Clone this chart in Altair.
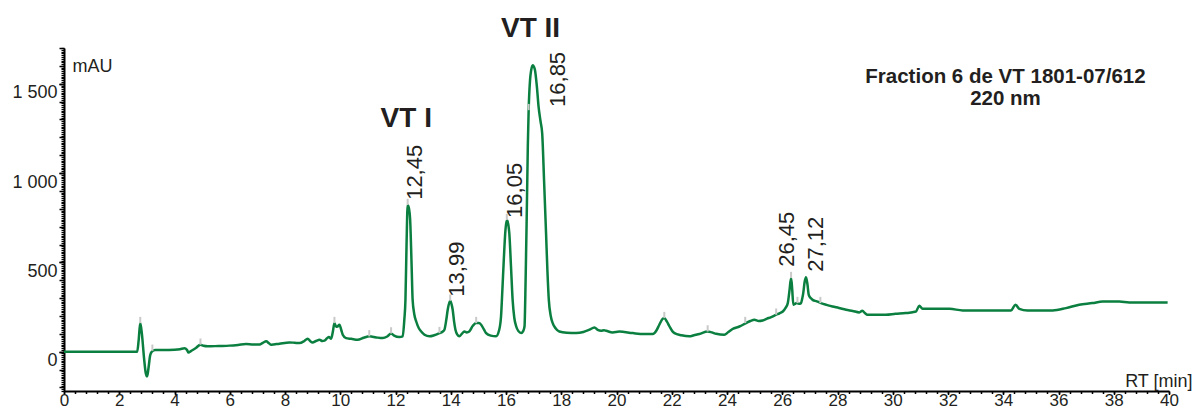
import altair as alt
import pandas as pd

# ---- chromatogram trace (retention time in min, absorbance in mAU) ----
rt_min = [0.0, 2.65, 2.70, 2.76, 2.82, 2.90, 2.96, 3.01, 3.06, 3.12, 3.18, 3.3, 3.6, 4.0, 4.2, 4.36,
          4.45, 4.51, 4.58, 4.76, 4.94, 5.05, 5.2, 5.6, 5.99, 6.3, 6.59, 6.85, 7.08, 7.2, 7.32, 7.42,
          7.5, 7.8, 8.16, 8.35, 8.52, 8.7, 8.82, 8.92, 9.0, 9.12, 9.25, 9.35, 9.43, 9.52, 9.59, 9.67,
          9.73, 9.79, 9.85, 9.90, 9.97, 10.04, 10.09, 10.21, 10.4, 10.63, 10.85, 11.06, 11.3, 11.54,
          11.7, 11.84, 11.95, 12.14, 12.26, 12.32, 12.36, 12.40, 12.44, 12.49, 12.53, 12.58, 12.62,
          12.68, 12.75, 12.85, 12.93, 13.05, 13.23, 13.4, 13.59, 13.7, 13.77, 13.84, 13.89, 13.98,
          14.03, 14.07, 14.12, 14.17, 14.24, 14.31, 14.4, 14.49, 14.58, 14.67, 14.8, 14.92, 15.02,
          15.10, 15.2, 15.28, 15.45, 15.64, 15.75, 15.82, 15.87, 15.92, 15.98, 16.03, 16.08, 16.12,
          16.18, 16.24, 16.30, 16.37, 16.45, 16.55, 16.62, 16.67, 16.71, 16.75, 16.79, 16.82, 16.87,
          16.91, 16.97, 17.01, 17.05, 17.12, 17.18, 17.25, 17.31, 17.38, 17.45, 17.50, 17.55, 17.62,
          17.69, 17.8, 17.93, 18.2, 18.54, 18.8, 19.02, 19.2, 19.32, 19.44, 19.55, 19.63, 19.86, 20.1,
          20.59, 21.0, 21.31, 21.45, 21.55, 21.65, 21.73, 21.82, 21.92, 22.02, 22.1, 22.35, 22.64,
          22.8, 23.0, 23.3, 23.45, 23.61, 23.9, 24.05, 24.2, 24.45, 24.69, 24.85, 24.99, 25.15, 25.29,
          25.45, 25.6, 25.78, 25.9, 26.02, 26.12, 26.2, 26.26, 26.32, 26.36, 26.40, 26.46, 26.52,
          26.60, 26.68, 26.72, 26.76, 26.81, 26.86, 26.91, 26.96, 27.03, 27.1, 27.25, 27.4, 27.6,
          27.82, 28.05, 28.31, 28.55, 28.79, 28.9, 29.0, 29.08, 29.4, 29.75, 30.1, 30.47, 30.84,
          30.96, 31.08, 31.45, 32.06, 32.53, 33.14, 33.86, 34.28, 34.44, 34.58, 34.88, 35.79, 36.27,
          36.75, 37.23, 37.6, 38.2, 38.56, 39.17, 39.95]
mau = [0, 0, 60, 160, 100, -40, -120, -138, -90, -20, 0, 10, 9, 11, 14, 19,
       10, -5, 2, 19, 39, 33, 30, 32, 34, 38, 43, 40, 40, 50, 58, 47,
       39, 45, 52, 50, 48, 60, 73, 58, 52, 60, 67, 60, 62, 75, 82, 73,
       110, 160, 140, 141, 151, 120, 95, 76, 72, 67, 78, 86, 80, 76,
       85, 102, 90, 82, 86, 180, 290, 600, 821, 800, 740, 500, 290,
       210, 169, 130, 113, 95, 86, 92, 104, 112, 123, 180, 235, 285,
       265, 235, 170, 123, 95, 86, 100, 113, 108, 113, 145, 160, 160,
       151, 125, 104, 90, 86, 120, 197, 350, 514, 680, 737, 715, 663,
       480, 290, 190, 141, 115, 104, 115, 141, 400, 756, 1150, 1352, 1520,
       1575, 1603, 1595, 1575, 1480, 1370, 1290, 1222, 950, 663, 450, 290, 200,
       160, 130, 113, 106, 104, 110, 123, 136, 122, 117, 120, 117, 108, 113,
       104, 99, 99, 120, 151, 180, 188, 170, 141, 115, 104, 92, 86,
       92, 99, 113, 108, 100, 95, 110, 127, 141, 160, 172, 179, 172, 175,
       185, 194, 207, 215, 225, 245, 272, 340, 412, 350, 263, 268, 272,
       268, 272, 295, 328, 390, 417, 380, 318, 300, 290, 282, 272, 262,
       253, 245, 235, 228, 220, 229, 215, 207, 207, 207, 212, 216, 225,
       257, 240, 240, 240, 231, 231, 231, 231, 263, 240, 231, 231, 244,
       263, 272, 281, 281, 276, 276, 276]

# ---- peak markers (light grey integration marks) ----
marker_rt = [2.76, 3.2, 4.94, 9.79, 11.05, 11.84, 12.44, 13.59, 13.98, 14.92, 16.03, 16.82,
             21.73, 23.3, 24.66, 25.78, 26.32, 26.55, 27.38]
marker_mau = [160, 5, 39, 160, 86, 102, 821, 104, 285, 160, 737, 1352,
              188, 113, 160, 207, 412, 272, 272]

# ---- peak retention-time labels ----
peak_text = ["12,45", "13,99", "16,05", "16,85", "26,45", "27,12"]
peak_text_rt = [12.72, 14.24, 16.32, 17.9, 26.18, 27.22]
peak_text_mau = [850, 308, 749, 1370, 475, 447]

# ---- fraction names ----
frac_text = ["VT I", "VT II"]
frac_rt = [12.39, 16.89]
frac_mau = [1257, 1763]

# ---- heading ----
head_text = ["Fraction 6 de VT 1801-07/612", "220 nm"]
head_rt = [34.08, 34.08]
head_mau = [1506, 1381]

FONT = "Liberation Sans"
INK = "#231f20"
GREEN = "#0a7f3f"

trace = pd.DataFrame({"rt": rt_min, "mau": mau})
markers = pd.DataFrame({"rt": marker_rt, "mau": marker_mau})
markers["top"] = markers["mau"] + 35
peaks = pd.DataFrame({"rt": peak_text_rt, "mau": peak_text_mau, "label": peak_text})
fracs = pd.DataFrame({"rt": frac_rt, "mau": frac_mau, "label": frac_text})
heads = pd.DataFrame({"rt": head_rt, "mau": head_mau, "label": head_text})

xscale = alt.Scale(domain=[0, 40], nice=False, zero=False)
yscale = alt.Scale(domain=[-220, 1700], nice=False, zero=False)

x_main_axis = alt.Axis(
    orient="bottom", values=list(range(0, 41, 2)), format="d", grid=False,
    labelFont=FONT, labelFontSize=17, labelColor=INK, labelBaseline="alphabetic",
    labelPadding=10.8, labelFlush=False, labelOverlap=False,
    tickSize=3.5, tickWidth=1.5, tickColor="black",
    domainColor="black", domainWidth=2,
    title="RT [min]", titleFont=FONT, titleFontSize=18, titleFontWeight="normal",
    titleColor=INK, titleAlign="right", titleBaseline="alphabetic",
    titleAngle=0, titleX=1128, titleY=-5)
x_minor_axis = alt.Axis(
    orient="bottom", values=[round(i * 0.4, 1) for i in range(101)], labels=False,
    grid=False, domain=False, tickSize=2.5, tickWidth=1.5, tickColor="black", title=None)

y_main_axis = alt.Axis(
    orient="left", values=[0, 500, 1000, 1500], grid=False,
    labelExpr="replace(format(datum.value, ','), ',', ' ')",
    labelFont=FONT, labelFontSize=18, labelColor=INK, labelBaseline="top",
    labelPadding=2, labelFlush=False, labelOverlap=False,
    tickSize=5, tickWidth=1.5, tickColor="black",
    domainColor="black", domainWidth=2,
    title="mAU", titleFont=FONT, titleFontSize=18, titleFontWeight="normal",
    titleColor=INK, titleAngle=0, titleAlign="left", titleBaseline="alphabetic",
    titleX=8, titleY=23.5)
y_hundred_axis = alt.Axis(
    orient="left", values=list(range(-200, 1701, 100)), labels=False, grid=False,
    domain=False, tickSize=5, tickWidth=1.5, tickColor="black", title=None)
y_minor_axis = alt.Axis(
    orient="left", values=list(range(-220, 1701, 10)), labels=False, grid=False,
    domain=False, tickSize=3, tickWidth=1.2, tickColor="black", title=None)

line = alt.Chart(trace).mark_line(
    color=GREEN, strokeWidth=2.5, interpolate="monotone"
).encode(
    x=alt.X("rt:Q", scale=xscale, axis=x_main_axis),
    y=alt.Y("mau:Q", scale=yscale, axis=y_main_axis),
)

marks = alt.Chart(markers).mark_rule(color="#c9c9c9", strokeWidth=2).encode(
    x=alt.X("rt:Q", scale=xscale, axis=x_minor_axis),
    y=alt.Y("mau:Q", scale=yscale, axis=y_minor_axis),
    y2="top:Q",
)

peak_labels = alt.Chart(peaks).mark_text(
    angle=270, align="left", baseline="middle", font=FONT, fontSize=22, color=INK
).encode(
    x=alt.X("rt:Q", scale=xscale, axis=None),
    y=alt.Y("mau:Q", scale=yscale, axis=y_hundred_axis),
    text="label:N",
)

frac_labels = alt.Chart(fracs).mark_text(
    align="center", baseline="alphabetic", font=FONT, fontSize=28,
    fontWeight="bold", color=INK
).encode(
    x=alt.X("rt:Q", scale=xscale, axis=None),
    y=alt.Y("mau:Q", scale=yscale, axis=None),
    text="label:N",
)

heading = alt.Chart(heads).mark_text(
    align="center", baseline="alphabetic", font=FONT, fontSize=20.5,
    fontWeight="bold", color=INK
).encode(
    x=alt.X("rt:Q", scale=xscale, axis=None),
    y=alt.Y("mau:Q", scale=yscale, axis=None),
    text="label:N",
)

chart = alt.layer(line, marks, peak_labels, frac_labels, heading).resolve_axis(
    x="independent", y="independent"
).properties(
    width=1105, height=343,
    padding={"left": 56, "top": 40, "right": 24, "bottom": 18},
    autosize=alt.AutoSizeParams(type="none"),
    background="white",
).configure_view(stroke=None)

chart.save("out.html", embed_options={"renderer": "svg", "actions": False})
